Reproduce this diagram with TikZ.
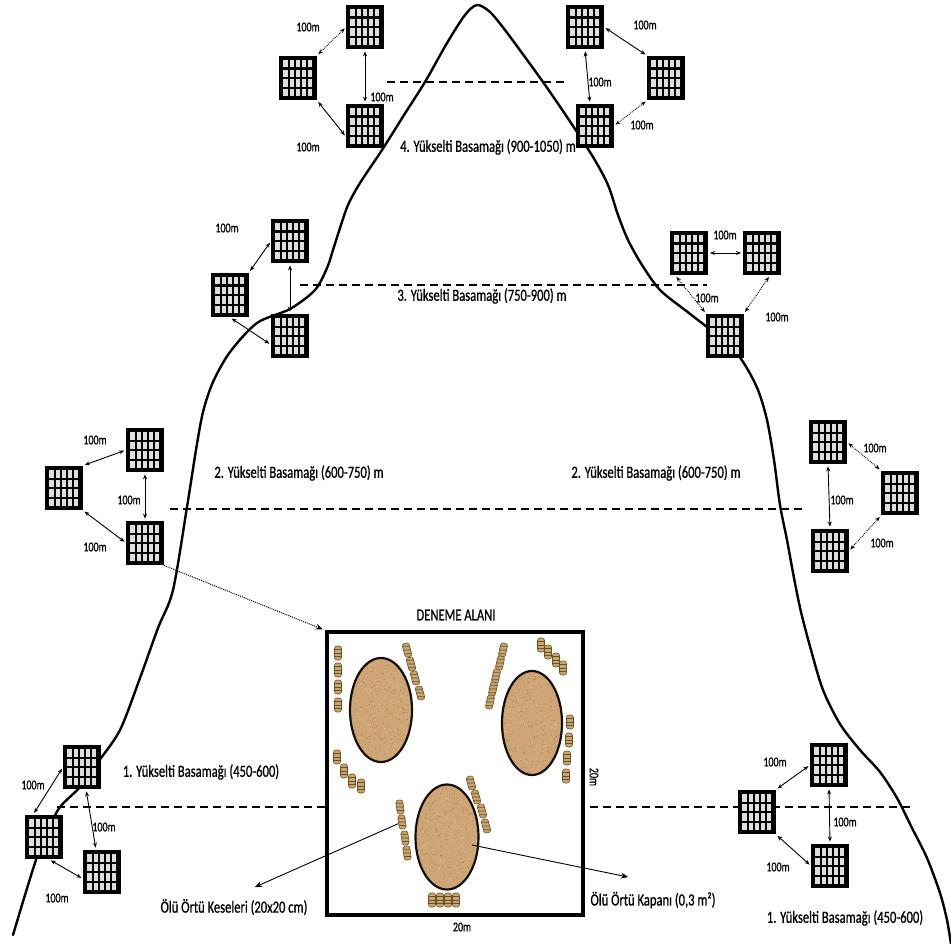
\documentclass[tikz,border=0pt]{standalone}
\usepackage{fontspec}
\newfontfamily\lblfont[FakeStretch=0.74,FakeBold=0.8]{Carlito}
\usetikzlibrary{arrows.meta,calc,shapes.geometric}
\definecolor{soil}{RGB}{206,166,118}
\definecolor{soildark}{RGB}{165,125,80}
\definecolor{soillight}{RGB}{228,198,155}
\definecolor{soilline}{RGB}{20,15,10}
\definecolor{bagfill}{RGB}{198,168,110}
\definecolor{bagline}{RGB}{105,78,40}
\definecolor{gridcell}{RGB}{222,222,222}

\begin{document}
\begin{tikzpicture}[x=1pt,y=-1pt,
  lbl/.style={font=\lblfont\fontsize{17}{19}\selectfont, inner sep=1pt},
  dist/.style={font=\lblfont\fontsize{13.5}{15}\selectfont, inner sep=1pt},
  ridge/.style={line width=2.4pt, line cap=round, line join=round},
  levelline/.style={line width=2.6pt, dash pattern=on 8pt off 5pt},
  link/.style={line width=0.9pt, {Stealth[length=5pt,width=4pt]}-{Stealth[length=5pt,width=4pt]}, shorten <=2pt, shorten >=2pt},
  dlink/.style={link, densely dotted},
  pointer/.style={line width=0.9pt, -{Stealth[length=7pt,width=6pt]}},
  plotbox/.style={draw=black, fill=black, line width=2.8pt, minimum width=35pt, minimum height=42pt, inner sep=0pt,
    path picture={
      \foreach \c in {0,...,4} \foreach \r in {0,...,3} {
        \fill[gridcell] ($(path picture bounding box.south west)+(2.9pt+\c*6.2pt, 2.7pt+\r*9.6pt)$) rectangle ++(4.2pt,7.4pt);
      }}},
  pile/.style={ellipse, draw=soilline, fill=soil, line width=2.2pt, inner sep=0pt,
    path picture={
      \foreach \n in {1,...,260} {
        \pgfmathsetmacro\u{rnd}\pgfmathsetmacro\v{rnd}
        \fill[soildark] ($(path picture bounding box.south west)+(\u*66pt,\v*108pt)$) circle (0.55pt);
      }
      \foreach \n in {1,...,200} {
        \pgfmathsetmacro\u{rnd}\pgfmathsetmacro\v{rnd}
        \fill[soillight] ($(path picture bounding box.south west)+(\u*66pt,\v*108pt)$) circle (0.5pt);
      }}},
  bag/.style={draw=bagline, fill=bagfill, line width=0.6pt, rounded corners=2.5pt, minimum width=7pt, minimum height=14pt, inner sep=0pt,
    path picture={
      \foreach \k in {0.25,0.5,0.75}
        \draw[bagline, line width=0.8pt] ($(path picture bounding box.south west)!\k!(path picture bounding box.north west)$) -- ($(path picture bounding box.south east)!\k!(path picture bounding box.north east)$);
    }},
]
\pgfmathsetseed{4711}
\useasboundingbox (0,0) rectangle (951,944);

% elevation belt boundaries
\coordinate (l4a) at (387,82);  \coordinate (l4b) at (568,82);
\coordinate (l3a) at (300,285); \coordinate (l3b) at (707,285);
\coordinate (l2a) at (170,509); \coordinate (l2b) at (806,509);
\coordinate (l1a) at (57,807);  \coordinate (l1b) at (913,807);
\draw[levelline] (l4a) -- (l4b);
\draw[levelline] (l3a) -- (l3b);
\draw[levelline] (l2a) -- (l2b);
\draw[levelline] (l1a) -- (l1b);

% mountain profile
\draw[ridge] plot[smooth, tension=0.5] coordinates {
  (13,935) (25,895) (37,857) (48,830) (60,807) (80,787) (98,762) (120,730)
  (140,678) (158,628) (173,590) (187,507) (196,450) (203,412) (213,382)
  (230,352) (257,323) (290,309) (315,290) (327,268) (333,250) (340,228)
  (348,205) (360,183) (382,150) (404,115) (425,82) (447,43) (465,15)
  (477,5) (490,12) (505,30) (522,53) (543,82) (567,117) (593,157)
  (608,185) (618,215) (628,240) (642,265) (660,290) (685,310) (707,327)
  (730,345) (745,365) (758,390) (767,420) (774,460) (780,505) (787,540)
  (794,578) (801,612) (811,650) (823,690) (840,724) (860,750) (880,772)
  (897,798) (912,828) (927,858) (940,893) (947,920) (951,944)};

% experimental plot
\node[draw=black, fill=white, line width=3.2pt, minimum width=256pt, minimum height=283pt, inner sep=0pt] (field) at (455,773.5) {};
\node[lbl] (fieldtitle) at (456,615) {DENEME ALANI};
\node[dist, rotate=-90] (fieldside) at (594,777) {20m};
\node[dist] (fieldbase) at (462,927) {20m};

% litter traps
\node[pile, minimum width=62pt, minimum height=104pt] (trap1) at (381,710) {};
\node[pile, minimum width=60pt, minimum height=104pt] (trap2) at (532,723) {};
\node[pile, minimum width=63pt, minimum height=105pt] (trap3) at (447,837) {};

% litter bags
\foreach \p [count=\i] in {(338,653),(338,670),(338,687),(338,705)}
  \node[bag] (bagA\i) at \p {};
\foreach \p [count=\i] in {(407,650),(411,664),(415,678),(420,693)}
  \node[bag, rotate=15] (bagB\i) at \p {};
\foreach \p [count=\i] in {(337,757),(344,771),(352,781),(361,786)}
  \node[bag] (bagC\i) at \p {};
\foreach \p [count=\i] in {(503,650),(500,663),(496,676),(493,689),(490,702)}
  \node[bag, rotate=-12] (bagD\i) at \p {};
\foreach \p [count=\i] in {(541,645),(548,652),(556,660),(563,668)}
  \node[bag] (bagE\i) at \p {};
\foreach \p [count=\i] in {(570,722),(569,740),(567,758),(566,776)}
  \node[bag] (bagF\i) at \p {};
\foreach \p [count=\i] in {(400,807),(402,822),(405,838),(407,853)}
  \node[bag, rotate=8] (bagG\i) at \p {};
\foreach \p [count=\i] in {(471,783),(476,797),(482,811),(486,826)}
  \node[bag, rotate=15] (bagH\i) at \p {};
\foreach \p [count=\i] in {(432,900),(440,900),(448,900),(456,900)}
  \node[bag] (bagI\i) at \p {};

% captions of the plot contents
\node[lbl] (bagtext) at (234,907) {Ölü Örtü Keseleri (20x20 cm)};
\node[lbl] (traptext) at (653,900) {Ölü Örtü Kapanı (0,3 m²)};
\coordinate (bagtip) at (255,887);
\coordinate (traptip) at (628,877);
\coordinate (trapstart) at (472,845);
\draw[pointer] (bagG2) -- (bagtip);
\draw[pointer] (trapstart) -- (traptip);

% sampling plots, belt 4
\node[plotbox] (A) at (365,27) {};
\node[plotbox] (B) at (298,78) {};
\node[plotbox] (C) at (365,126) {};
\node[plotbox] (D) at (585,27) {};
\node[plotbox] (E) at (666,78) {};
\node[plotbox] (F) at (595,126) {};
% belt 3
\node[plotbox] (G) at (290,241) {};
\node[plotbox] (H) at (230,295) {};
\node[plotbox] (I) at (290,336) {};
\node[plotbox] (J) at (689,253) {};
\node[plotbox] (K) at (762,253) {};
\node[plotbox] (L) at (725,336) {};
% belt 2
\node[plotbox] (M) at (145,450) {};
\node[plotbox] (N) at (64,488) {};
\node[plotbox] (O) at (145,543) {};
\node[plotbox] (P) at (828,442) {};
\node[plotbox] (Q) at (900,493) {};
\node[plotbox] (R) at (830,551) {};
% belt 1
\node[plotbox] (S) at (82,767) {};
\node[plotbox] (T) at (44,837) {};
\node[plotbox] (U) at (102,872) {};
\node[plotbox] (V) at (829,765) {};
\node[plotbox] (W) at (757,812) {};
\node[plotbox] (X) at (830,866) {};

% distances between plots
\draw[dlink] (A.west) -- (B.north east);
\draw[link] (A.south) -- (C.north);
\draw[link] (B.south east) -- (C.210);
\draw[link] (D.east) -- (E.north west);
\draw[link] (D.south) -- ([xshift=-5pt]F.north);
\draw[dlink] (E.south west) -- (F.east);
\draw[link] (G.west) -- (H.north east);
\draw[link] (G.south) -- (I.north);
\draw[link] (H.south) -- (I.205);
\draw[link] (J.east) -- (K.west);
\draw[dlink] ([xshift=5pt]J.south west) -- (L.north west);
\draw[dlink] ([xshift=8pt]K.south) -- (L.north east);
\draw[link] (M.west) -- (N.north east);
\draw[link] (M.south) -- (O.north);
\draw[link] (N.south east) -- (O.west);
\draw[dlink] (P.east) -- (Q.north west);
\draw[link] (P.south) -- (R.north);
\draw[dlink] (Q.south west) -- (R.east);
\draw[link] (S.west) -- ([xshift=8pt]T.north west);
\draw[link] ([xshift=4pt]S.south) -- ([xshift=-6pt]U.north);
\draw[link] ([xshift=5pt]T.south) -- (U.200);
\draw[link] (V.west) -- (W.north east);
\draw[link] (V.south) -- (X.north);
\draw[link] (W.south east) -- (X.west);

\node[dist] (dAB) at (308,27) {100m};
\node[dist] (dAC) at (382,97) {100m};
\node[dist] (dBC) at (308,147) {100m};
\node[dist] (dDE) at (645,25) {100m};
\node[dist] (dDF) at (600,82) {100m};
\node[dist] (dEF) at (642,125) {100m};
\node[dist] (dGH) at (227,228) {100m};
\node[dist] (dJK) at (725,235) {100m};
\node[dist] (dJL) at (707,298) {100m};
\node[dist] (dKL) at (777,317) {100m};
\node[dist] (dMN) at (95,440) {100m};
\node[dist] (dMO) at (129,500) {100m};
\node[dist] (dNO) at (95,547) {100m};
\node[dist] (dPQ) at (875,448) {100m};
\node[dist] (dPR) at (842,500) {100m};
\node[dist] (dQR) at (882,543) {100m};
\node[dist] (dST) at (33,785) {100m};
\node[dist] (dSU) at (104,827) {100m};
\node[dist] (dTU) at (57,898) {100m};
\node[dist] (dVW) at (775,762) {100m};
\node[dist] (dVX) at (845,822) {100m};
\node[dist] (dWX) at (778,867) {100m};

% link from a belt-2 plot to the plot layout
\draw[line width=1pt, densely dotted, -{Stealth[length=7pt,width=6pt]}, shorten >=3pt] (O.south east) -- (field.north west);

% belt captions
\node[lbl] (belt4) at (488,147) {4. Yükselti Basamağı (900-1050) m};
\node[lbl] (belt3) at (482,296) {3. Yükselti Basamağı (750-900) m};
\node[lbl] (belt2l) at (299,473) {2. Yükselti Basamağı (600-750) m};
\node[lbl] (belt2r) at (656,473) {2. Yükselti Basamağı (600-750) m};
\node[lbl] (belt1l) at (201,772) {1. Yükselti Basamağı (450-600)};
\node[lbl] (belt1r) at (845,918) {1. Yükselti Basamağı (450-600)};
\end{tikzpicture}
\end{document}
